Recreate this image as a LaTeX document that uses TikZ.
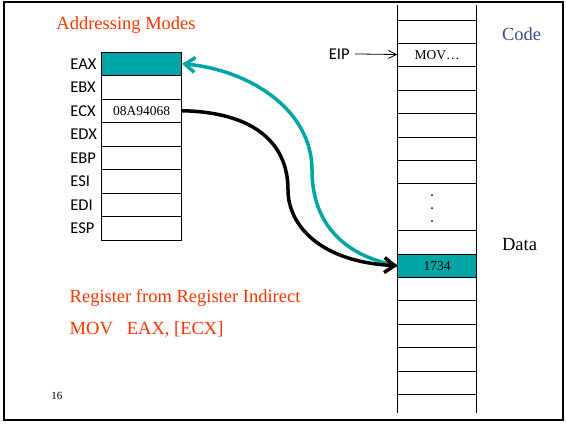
\documentclass[tikz,border=0pt]{standalone}
\usepackage{fontspec}
\setmainfont{Liberation Serif}
\newfontfamily\calibfont{Carlito}
\usetikzlibrary{arrows.meta}
\definecolor{regteal}{RGB}{0,166,166}
\definecolor{slidered}{RGB}{255,51,0}
\definecolor{codeblue}{RGB}{59,78,135}

\begin{document}
\begin{tikzpicture}[x = 1pt, y = -1pt, line width = 0.8pt,
                        reg/.style = {rectangle, draw, minimum width = 80pt, minimum height = 23.5pt, inner sep = 0pt, font = \fontsize{13.5}{15}\selectfont},
                        cell/.style = {rectangle, draw, minimum width = 79pt, minimum height = 23.4pt, inner sep = 0pt, font = \fontsize{13.5}{15}\selectfont},
                        reglabel/.style = {anchor = west, inner sep = 0pt, font = \calibfont\fontsize{16.5}{18}\selectfont},
                        redtext/.style = {anchor = base west, inner sep = 0pt, text = slidered, font = \fontsize{18.5}{22}\selectfont},
                        sidetext/.style = {anchor = base west, inner sep = 0pt, font = \fontsize{18.5}{22}\selectfont},
                        bigarrow/.style = {line width = 3.5pt, -{Straight Barb[length = 10pt, width = 15pt]}}]
      \useasboundingbox (0, 0) rectangle (566, 424);
      \draw [line width = 2pt] (3.5, 2) rectangle (563, 420);
      % registers
      \node [reg, fill = regteal] (eax) at (141.7, 63.75){};
      \node [reg] (ebx) at (141.7, 87.25){};
      \node [reg] (ecx) at (141.7, 110.75){08A94068};
      \node [reg] (edx) at (141.7, 134.25){};
      \node [reg] (ebp) at (141.7, 157.75){};
      \node [reg] (esi) at (141.7, 181.25){};
      \node [reg] (edi) at (141.7, 204.75){};
      \node [reg] (esp) at (141.7, 228.25){};
      \node [reglabel] (leax) at (70, 63.75){EAX};
      \node [reglabel] (lebx) at (70, 87.25){EBX};
      \node [reglabel] (lecx) at (70, 110.75){ECX};
      \node [reglabel] (ledx) at (70, 134.25){EDX};
      \node [reglabel] (lebp) at (70, 157.75){EBP};
      \node [reglabel] (lesi) at (70, 181.25){ESI};
      \node [reglabel] (ledi) at (70, 204.75){EDI};
      \node [reglabel] (lesp) at (70, 228.25){ESP};
      % memory
      \draw (397.7, 5) -- (397.7, 413);
      \draw (476.7, 5) -- (476.7, 413);
      \foreach \k in {0, 2, 3, 4, 5, 6, 9, 11, 12, 13, 14, 15}
        \node [cell] (m\k) at (437.2, 31.7 + 23.4*\k){};
      \node [cell] (mov) at (437.2, 55.1){MOV…};
      \node [cell, minimum height = 46.8pt] (dots) at (437.2, 207.2){};
      \node [cell, fill = regteal] (d1734) at (437.2, 265.7){1734};
      \foreach \y in {195, 208, 221}
        \fill (432, \y) circle (1pt);
      % texts
      \node [redtext] (title) at (56, 29.5){Addressing Modes};
      \node [redtext] (mode) at (69.3, 302.3){Register from Register Indirect};
      \node [redtext] (instr) at (69.3, 334.5){MOV\hspace{14pt}EAX, [ECX]};
      \node [sidetext, text = codeblue] (code) at (501.7, 40.7){Code};
      \node [sidetext] (data) at (501.7, 250){Data};
      \node [anchor = base west, inner sep = 0pt, font = \fontsize{11}{13}\selectfont] (page) at (51, 399.3){16};
      \node [reglabel, anchor = base east] (eip) at (350, 59){EIP};
      \draw [-{Straight Barb[length = 8pt, width = 8pt]}, shorten <= 5pt] (eip) -- (mov);
      % arrows
      \draw [bigarrow, draw = regteal] (d1734.west) .. controls (340, 255) and (312, 220) .. (312, 170) .. controls (312, 110) and (250, 70) .. (eax.east);
      \draw [bigarrow] (ecx.east) .. controls (250, 112) and (288, 140) .. (288, 190) .. controls (288, 225) and (320, 262) .. (d1734.west);
    \end{tikzpicture}
\end{document}
